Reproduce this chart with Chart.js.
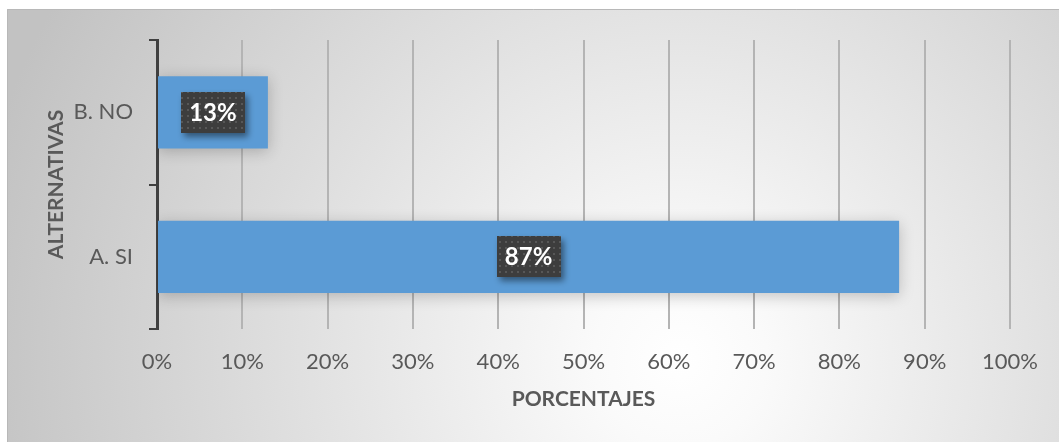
<!DOCTYPE html>
<html lang="es">
<head>
<meta charset="utf-8">
<title>Alternativas</title>
<script src="https://cdn.jsdelivr.net/npm/chart.js@4"></script>
<style>
  html, body { margin: 0; padding: 0; background: #fff; }
  #wrap { position: relative; width: 1059px; height: 442px; }
</style>
</head>
<body>
<div id="wrap"><canvas id="chart-alternativas"></canvas></div>
<script>
const alternativas = ['B. NO', 'A. SI'];
const porcentajes = [13, 87];
const tituloX = 'PORCENTAJES';
const tituloY = 'ALTERNATIVAS';

const colorTexto = '#595959';
const fuente = 'Lato, "Open Sans", sans-serif';

// fondo degradado gris con el centro claro
const fondo = {
  id: 'fondo',
  beforeDraw(chart) {
    const ctx = chart.ctx;
    const w = chart.width, h = chart.height;
    ctx.save();
    const g = ctx.createRadialGradient(680, 360, 0, 680, 360, 720);
    g.addColorStop(0, '#ffffff');
    g.addColorStop(0.12, '#fafafa');
    g.addColorStop(1, '#c2c2c2');
    ctx.fillStyle = g;
    ctx.fillRect(7, 9, w - 7, h - 9);
    ctx.strokeStyle = '#b8b8b8';
    ctx.lineWidth = 1;
    ctx.beginPath();
    ctx.moveTo(7.5, h);
    ctx.lineTo(7.5, 9.5);
    ctx.lineTo(w, 9.5);
    ctx.stroke();
    ctx.restore();
  }
};

// sombra suave alrededor de las barras
const sombraBarras = {
  id: 'sombraBarras',
  beforeDatasetDraw(chart) {
    const ctx = chart.ctx;
    ctx.save();
    ctx.shadowColor = 'rgba(0,0,0,0.22)';
    ctx.shadowBlur = 14;
    ctx.shadowOffsetY = 3;
  },
  afterDatasetDraw(chart) {
    chart.ctx.restore();
  }
};

// trama de puntos para el recuadro de las etiquetas
function tramaPuntos() {
  const c = document.createElement('canvas');
  c.width = 6;
  c.height = 6;
  const p = c.getContext('2d');
  p.fillStyle = '#3d3d3d';
  p.fillRect(0, 0, 6, 6);
  p.fillStyle = '#575757';
  p.fillRect(1, 1, 2, 2);
  return c;
}

const etiquetas = {
  id: 'etiquetas',
  afterDatasetsDraw(chart) {
    const ctx = chart.ctx;
    const trama = ctx.createPattern(tramaPuntos(), 'repeat');
    const meta = chart.getDatasetMeta(0);
    meta.data.forEach((bar, i) => {
      const texto = porcentajes[i] + '%';
      const cx = (bar.x + bar.base) / 2;
      const cy = bar.y;
      const w = 64, h = 41;
      ctx.save();
      ctx.shadowColor = 'rgba(0,0,0,0.45)';
      ctx.shadowBlur = 6;
      ctx.shadowOffsetX = 3;
      ctx.shadowOffsetY = 4;
      ctx.fillStyle = trama;
      ctx.fillRect(Math.round(cx - w / 2), Math.round(cy - h / 2), w, h);
      ctx.restore();

      ctx.save();
      ctx.font = 'bold 24px ' + fuente;
      ctx.fillStyle = '#ffffff';
      ctx.textAlign = 'center';
      ctx.textBaseline = 'middle';
      ctx.fillText(texto, cx, cy + 1);
      ctx.restore();
    });
  }
};

new Chart(document.getElementById('chart-alternativas'), {
  type: 'bar',
  data: {
    labels: alternativas,
    datasets: [{
      data: porcentajes,
      backgroundColor: '#5b9bd5',
      barPercentage: 0.5,
      categoryPercentage: 1
    }]
  },
  options: {
    indexAxis: 'y',
    responsive: true,
    maintainAspectRatio: false,
    animation: false,
    layout: { padding: { top: 40, right: 49, bottom: 0, left: 0 } },
    plugins: {
      legend: { display: false },
      tooltip: { enabled: false }
    },
    scales: {
      x: {
        min: 0,
        max: 100,
        ticks: {
          stepSize: 10,
          autoSkip: false,
          maxRotation: 0,
          callback: v => v + '%',
          color: colorTexto,
          font: { family: fuente, size: 22 },
          padding: 20
        },
        grid: {
          color: c => c.index === 0 ? 'rgba(0,0,0,0)' : '#b4b4b4',
          lineWidth: 2,
          drawTicks: false
        },
        border: { display: false },
        title: {
          display: true,
          text: tituloX,
          color: colorTexto,
          font: { family: fuente, size: 21, weight: 'bold', lineHeight: 1 },
          padding: { top: 0, bottom: 32 }
        },
        afterFit(scale) { scale.height = 113; }
      },
      y: {
        ticks: {
          color: colorTexto,
          font: { family: fuente, size: 22 },
          padding: 16
        },
        grid: {
          drawOnChartArea: false,
          color: '#404040',
          lineWidth: 2,
          tickLength: 8
        },
        border: { display: true, color: '#404040', width: 3 },
        title: {
          display: true,
          text: tituloY,
          color: colorTexto,
          font: { family: fuente, size: 21, weight: 'bold', lineHeight: 1 },
          padding: { top: 46, bottom: 0 }
        },
        afterFit(scale) { scale.width = 157; }
      }
    }
  },
  plugins: [fondo, sombraBarras, etiquetas]
});
</script>
</body>
</html>
